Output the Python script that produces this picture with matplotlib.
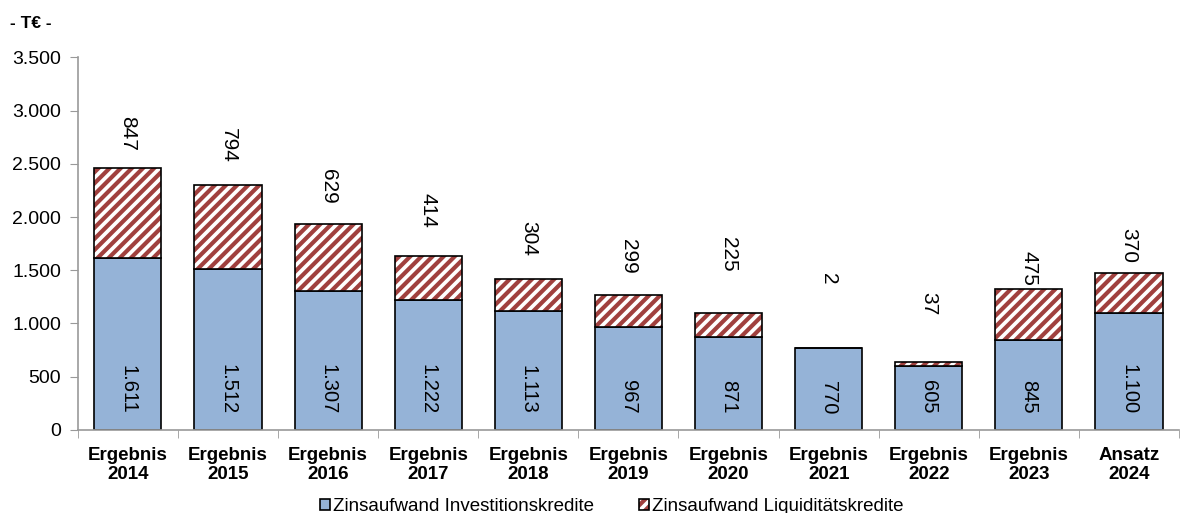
import matplotlib
matplotlib.use("Agg")
import matplotlib.pyplot as plt
from matplotlib.patches import Patch
import numpy as np

plt.rcParams['font.family'] = ['Liberation Sans', 'DejaVu Sans']
plt.rcParams['hatch.linewidth'] = 3.0

categories = ["Ergebnis\n2014", "Ergebnis\n2015", "Ergebnis\n2016", "Ergebnis\n2017",
              "Ergebnis\n2018", "Ergebnis\n2019", "Ergebnis\n2020", "Ergebnis\n2021",
              "Ergebnis\n2022", "Ergebnis\n2023", "Ansatz\n2024"]
invest = [1611, 1512, 1307, 1222, 1113, 967, 871, 770, 605, 845, 1100]
liquid = [847, 794, 629, 414, 304, 299, 225, 2, 37, 475, 370]
# label centre positions (in T€) for the Liquiditätskredite labels, as placed in the reference
liq_label_pos = [2785, 2670, 2290, 2065, 1800, 1635, 1650, 1420, 1185, 1515, 1730]
series_names = ['Zinsaufwand Investitionskredite', 'Zinsaufwand Liquiditätskredite']

BLUE = '#95B3D7'
RED = '#A0403E'

def fmt(v):
    return f"{v:,}".replace(",", ".")

fig = plt.figure(figsize=(11.97, 5.13), dpi=100)
ax = fig.add_axes([0.065, 0.162, 0.92, 0.726])

x = np.arange(len(categories))
w = 0.67
ax.bar(x, invest, w, color=BLUE, edgecolor='black', linewidth=1.2, zorder=2)
ax.bar(x, liquid, w, bottom=invest, color='white', edgecolor=RED, linewidth=0,
       hatch='///', zorder=2)
ax.bar(x, liquid, w, bottom=invest, fill=False, edgecolor='black', linewidth=1.2, zorder=3)

for xi, v in zip(x, invest):
    ax.text(xi, 150, fmt(v), rotation=270, ha='center', va='bottom', fontsize=14.5, zorder=4)
for xi, v, p in zip(x, liquid, liq_label_pos):
    ax.text(xi, p, fmt(v), rotation=270, ha='center', va='center', fontsize=15, zorder=4)

ax.set_xlim(-0.5, len(categories) - 0.5)
ax.set_ylim(0, 3500)
ax.set_yticks(np.arange(0, 3501, 500))
ax.set_yticklabels([fmt(v) for v in range(0, 3501, 500)], fontsize=14)
ax.set_xticks(x)
ax.set_xticklabels(categories, fontsize=13.5, fontweight='bold', linespacing=1.15)
ax.tick_params(axis='x', length=0, pad=12)
ax.set_xticks(np.arange(-0.5, len(categories), 1), minor=True)
ax.tick_params(axis='x', which='minor', length=6, color='#999999', direction='out')
ax.tick_params(axis='y', length=6, color='#999999', direction='out', pad=6)

for s in ['top', 'right']:
    ax.spines[s].set_visible(False)
for s in ['left', 'bottom']:
    ax.spines[s].set_color('#999999')
    ax.spines[s].set_linewidth(1.2)

fig.text(0.008, 0.955, "- T€ -", fontsize=12.5, fontweight='bold', va='center', ha='left')

h1 = Patch(facecolor=BLUE, edgecolor='black', linewidth=1.2)
h2a = Patch(facecolor='white', edgecolor=RED, linewidth=0, hatch='///')
h2b = Patch(fill=False, edgecolor='black', linewidth=1.2)
leg = fig.legend([h1, (h2a, h2b)], series_names, loc='center', bbox_to_anchor=(0.511, 0.012),
                 ncol=2, frameon=False, fontsize=13.5, handlelength=0.55, handleheight=0.55,
                 handletextpad=0.15, columnspacing=2.4)

fig.savefig("out.png", dpi=100)
